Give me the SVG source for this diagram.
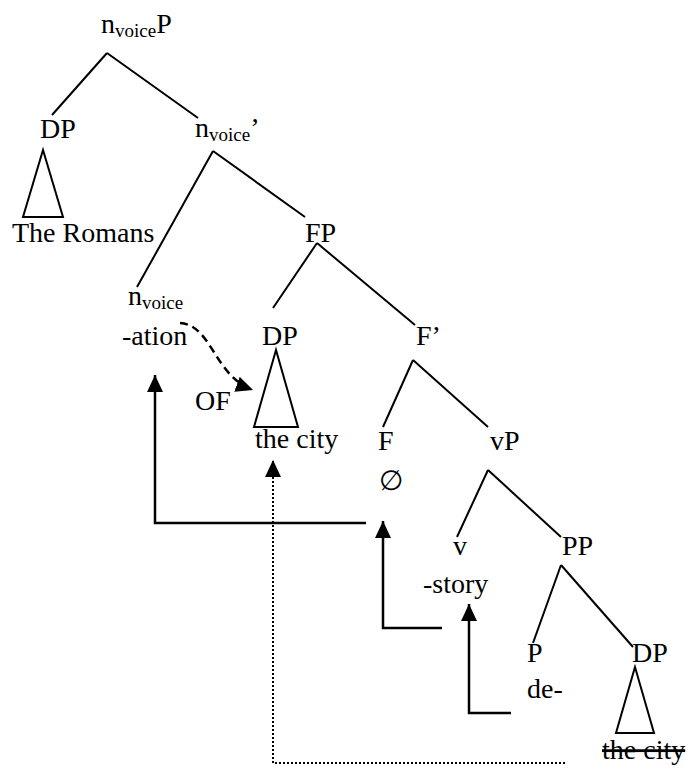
<svg xmlns="http://www.w3.org/2000/svg" width="691" height="769" viewBox="0 0 691 769" font-family="'Liberation Serif', 'Times New Roman', Times, serif">
<style>
text{font-family:'Liberation Serif','Times New Roman',Times,serif;font-size:28px;fill:#000}
.sub{font-size:19px}
.edge{stroke:#000;stroke-width:2;fill:none}
.tri{stroke:#000;stroke-width:2;fill:#fff}
.mv{stroke:#000;stroke-width:2.5;fill:none}
.dot{stroke:#000;stroke-width:2;fill:none;stroke-dasharray:2 2}
.dash{stroke:#000;stroke-width:2.5;fill:none;stroke-dasharray:8 5}
</style>
<defs>
<marker id="ah" markerUnits="userSpaceOnUse" markerWidth="18" markerHeight="18" viewBox="0 0 18 18" refX="17" refY="9" orient="auto">
<path d="M0,1 L17,9 L0,17 Z" fill="#000"/>
</marker>
</defs>
<rect width="691" height="769" fill="#fff"/>
<g id="connectors">
<line class="edge" x1="107" y1="53" x2="52" y2="115"/>
<line class="edge" x1="107" y1="53" x2="198" y2="118"/>
<line class="edge" x1="213" y1="151" x2="137" y2="287"/>
<line class="edge" x1="213" y1="151" x2="305" y2="217"/>
<line class="edge" x1="317" y1="243" x2="273" y2="308"/>
<line class="edge" x1="317" y1="243" x2="415" y2="325"/>
<line class="edge" x1="413" y1="360" x2="383" y2="427"/>
<line class="edge" x1="413" y1="360" x2="488" y2="427"/>
<line class="edge" x1="488" y1="470" x2="457" y2="537"/>
<line class="edge" x1="488" y1="470" x2="561" y2="537"/>
<line class="edge" x1="561" y1="565" x2="533" y2="643"/>
<line class="edge" x1="561" y1="565" x2="633" y2="647"/>
<path class="mv" d="M366,523 H155 V375" marker-end="url(#ah)"/>
<path class="mv" d="M442,628 H383 V521" marker-end="url(#ah)"/>
<path class="mv" d="M511,713 H469 V604" marker-end="url(#ah)"/>
<path class="dot" d="M565,763 H273 V460" marker-end="url(#ah)"/>
<path class="dash" d="M180,323 C212,325 214,376 253,390" marker-end="url(#ah)"/>
</g>
<g id="nvoiceP"><text x="101" y="33">n<tspan class="sub" dy="4">voice</tspan><tspan dy="-4">P</tspan></text></g>
<g id="DP1"><text x="40" y="138">DP</text><polygon class="tri" points="43,150 23,217 63,217"/><text x="12" y="242">The Romans</text></g>
<g id="nvoiceBar"><text x="195" y="137">n<tspan class="sub" dy="4">voice</tspan><tspan dy="-4">’</tspan></text></g>
<g id="FP"><text x="305" y="242">FP</text></g>
<g id="nvoice"><text x="128" y="305">n<tspan class="sub" dy="4">voice</tspan></text><text x="122" y="345">-ation</text></g>
<g id="DP2"><text x="262" y="345">DP</text><polygon class="tri" points="276,350 254,427 298,427"/><text x="255" y="448">the city</text></g>
<g id="OF"><text x="195" y="410">OF</text></g>
<g id="Fbar"><text x="416" y="345">F’</text></g>
<g id="F"><text x="378" y="450">F</text><text x="379" y="490">∅</text></g>
<g id="vP"><text x="490" y="450">vP</text></g>
<g id="v"><text x="453" y="555">v</text><text x="423" y="593">-story</text></g>
<g id="PP"><text x="562" y="555">PP</text></g>
<g id="P"><text x="527" y="662">P</text><text x="527" y="698">de-</text></g>
<g id="DP3"><text x="632" y="662">DP</text><polygon class="tri" points="635,667 616,733 654,733"/><text x="602" y="759" text-decoration="line-through">the city</text></g>
</svg>
